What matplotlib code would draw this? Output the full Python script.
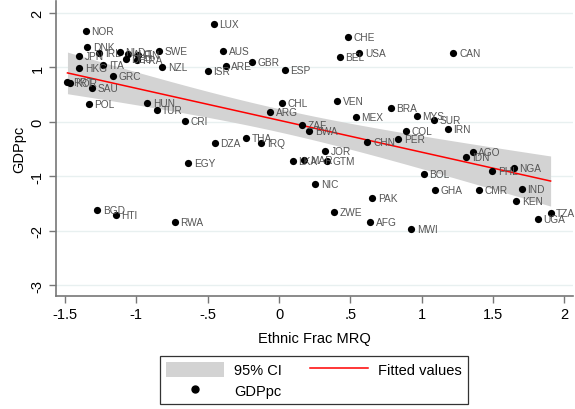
import numpy as np
import matplotlib
matplotlib.use("Agg")
import matplotlib.pyplot as plt
from matplotlib.patches import Patch
from matplotlib.lines import Line2D

plt.rcParams['font.family'] = ['Liberation Sans', 'DejaVu Sans']

# country codes, ethnic fractionalisation (MRQ) and GDP per capita (standardised)
codes = ["NOR", "DNK", "JPN", "IRL", "NLD", "AUT", "DEU", "FIN", "FRA", "SWE",
         "ITA", "HKG", "NZL", "GRC", "ISR", "PRT", "KOR", "SAU", "POL", "HUN",
         "TUR", "CRI", "LUX", "AUS", "ARE", "GBR", "ESP", "CHE", "BEL", "USA",
         "CHL", "ARG", "VEN", "MEX", "ZAF", "CAN", "BRA", "MYS", "SUR", "BWA",
         "DZA", "THA", "IRQ", "JOR", "LKA", "MAR", "GTM", "NIC", "ZWE", "PAK",
         "AFG", "EGY", "BGD", "HTI", "RWA", "COL", "IRN", "PER", "CHN", "AGO",
         "IDN", "BOL", "PHL", "NGA", "GHA", "CMR", "IND", "KEN", "TZA", "UGA",
         "MWI"]
ethnic_frac = [-1.354, -1.343, -1.401, -1.261, -1.116, -1.062, -1.074, -0.992, -0.999, -0.842,
               -1.233, -1.399, -0.819, -1.165, -0.498, -1.483, -1.467, -1.310, -1.333, -0.924,
               -0.858, -0.660, -0.456, -0.391, -0.374, -0.187, 0.040, 0.484, 0.426, 0.564,
               0.023, -0.061, 0.407, 0.540, 0.159, 1.223, 0.784, 0.966, 1.088, 0.211,
               -0.451, -0.229, -0.124, 0.323, 0.096, 0.178, 0.339, 0.253, 0.388, 0.655,
               0.639, -0.636, -1.275, -1.144, -0.730, 0.893, 1.184, 0.835, 0.620, 1.359,
               1.312, 1.013, 1.495, 1.644, 1.095, 1.399, 1.703, 1.663, 1.904, 1.813,
               0.926]
gdppc = [1.664, 1.380, 1.205, 1.266, 1.290, 1.248, 1.150, 1.235, 1.138, 1.308,
         1.052, 0.985, 1.003, 0.850, 0.942, 0.728, 0.716, 0.618, 0.325, 0.354,
         0.215, 0.024, 1.800, 1.308, 1.033, 1.106, 0.948, 1.554, 1.199, 1.266,
         0.343, 0.183, 0.380, 0.097, -0.049, 1.260, 0.251, 0.104, 0.042, -0.159,
         -0.391, -0.300, -0.391, -0.532, -0.722, -0.703, -0.722, -1.138, -1.657, -1.400,
         -1.840, -0.758, -1.615, -1.712, -1.829, -0.165, -0.134, -0.312, -0.373, -0.545,
         -0.637, -0.954, -0.905, -0.838, -1.242, -1.242, -1.229, -1.450, -1.675, -1.780,
         -1.963]

xticks = [-1.5, -1, -0.5, 0, 0.5, 1, 1.5, 2]
xtick_labels = ["-1.5", "-1", "-.5", "0", ".5", "1", "1.5", "2"]
yticks = [2, 1, 0, -1, -2, -3]
ytick_labels = ["2", "1", "0", "-1", "-2", "-3"]

x = np.array(ethnic_frac)
y = np.array(gdppc)

# OLS fit with 95% CI of the mean prediction
n = len(x)
b, a = np.polyfit(x, y, 1)
resid = y - (a + b * x)
s = np.sqrt(np.sum(resid ** 2) / (n - 2))
sxx = np.sum((x - x.mean()) ** 2)
t_crit = 1.994  # t(0.975, df ~ 69)
xs = np.linspace(x.min(), x.max(), 100)
fit = a + b * xs
se = s * np.sqrt(1.0 / n + (xs - x.mean()) ** 2 / sxx)

fig = plt.figure(figsize=(5.75, 4.1), dpi=100)
ax = fig.add_axes([0.097, 0.276, 0.9, 0.719])

grid_col = "#e8f0f0"
for yt in yticks:
    ax.axhline(yt, color=grid_col, lw=1.0, zorder=0)

ax.fill_between(xs, fit - t_crit * se, fit + t_crit * se, color="#d3d3d3", lw=0, zorder=1)
ax.plot(xs, fit, color="red", lw=1.1, zorder=2)
ax.plot(x, y, "o", color="black", ms=5.2, mew=0, zorder=3)
for c, xi, yi in zip(codes, x, y):
    ax.annotate(c, (xi, yi), xytext=(4, 0), textcoords="offset points",
                fontsize=7.3, color="#555555", va="center", ha="left", zorder=4)

ax.set_xlim(-1.565, 2.063)
ax.set_ylim(-3.193, 2.22)
ax.set_xticks(xticks)
ax.set_xticklabels(xtick_labels, fontsize=10.5)
ax.set_yticks(yticks)
ax.set_yticklabels(ytick_labels, fontsize=10.5, rotation=90, va="center")
ax.tick_params(color="#777777", length=5, width=1, pad=3)

for side in ["top", "right"]:
    ax.spines[side].set_visible(False)
for side in ["left", "bottom"]:
    ax.spines[side].set_color("#777777")
    ax.spines[side].set_linewidth(1.2)

ax.set_xlabel("Ethnic Frac MRQ", fontsize=10.5, labelpad=7)
ax.set_ylabel("GDPpc", fontsize=10.5, labelpad=3)

handles = [Patch(facecolor="#d3d3d3", edgecolor="none", label="95% CI"),
           Line2D([], [], marker="o", color="black", ls="none", ms=5, label="GDPpc"),
           Line2D([], [], color="red", lw=1.1, label="Fitted values")]
leg = fig.legend(handles=handles, ncol=2, loc="center", bbox_to_anchor=(0.546, 0.071),
                 fontsize=10.5, frameon=True, fancybox=False, edgecolor="black",
                 handlelength=4.0, handleheight=1.2, columnspacing=1.9,
                 borderpad=0.4, labelspacing=0.35, handletextpad=0.7,
                 borderaxespad=0.0)
leg.get_frame().set_linewidth(0.9)

fig.savefig("out.png", dpi=100, facecolor="white")
